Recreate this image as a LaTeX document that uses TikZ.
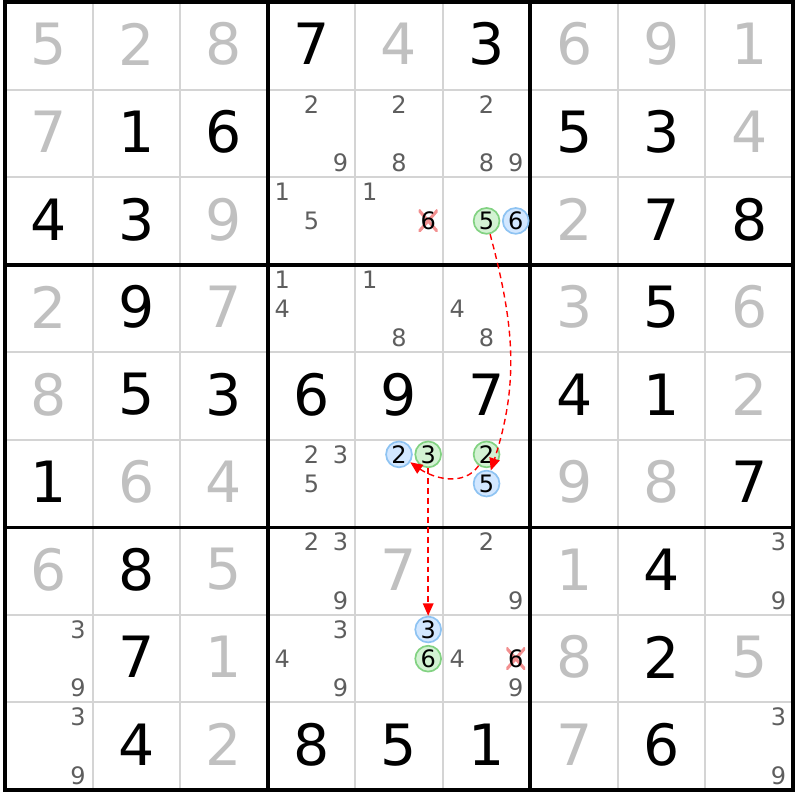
\documentclass[tikz,border=0pt]{standalone}
\usepackage{fontspec}
\setmainfont{DejaVu Sans}
\usetikzlibrary{arrows.meta}
\definecolor{gridgray}{HTML}{D4D4D4}
\definecolor{solvedgray}{HTML}{C0C0C0}
\definecolor{candgray}{HTML}{5E5E5E}
\definecolor{onblue}{HTML}{D2E7FF}
\definecolor{onblueline}{HTML}{8EC3F2}
\definecolor{offgreen}{HTML}{D3F2D3}
\definecolor{offgreenline}{HTML}{82D282}
\definecolor{crosspink}{HTML}{F29090}
\definecolor{linkred}{HTML}{FF0000}

\begin{document}
\begin{tikzpicture}[
  given/.style={font=\fontsize{18.5}{18.5}\selectfont, inner sep=0pt, yshift=0.5pt},
  solved/.style={given, text=solvedgray},
  cand/.style={font=\fontsize{7.8}{8}\selectfont, text=candgray, inner sep=0.6pt},
  candon/.style={cand, text=black, circle, draw=onblueline, fill=onblue,
    line width=0.55pt, minimum size=8.4pt, inner sep=0pt},
  candoff/.style={candon, draw=offgreenline, fill=offgreen},
  candx/.style={cand, text=black, path picture={
    \draw[crosspink, line width=1pt]
      (path picture bounding box.north west) -- (path picture bounding box.south east)
      (path picture bounding box.south west) -- (path picture bounding box.north east);}},
  link/.style={linkred, line width=0.45pt, dash pattern=on 1.9pt off 1.3pt,
    -{Triangle[length=1.4mm,width=1.2mm]}}]

\useasboundingbox (-0.057,-0.114) rectangle (9.057,9.023);

% grid
\foreach \i in {1,2,4,5,7,8}
  \draw[gridgray, line width=0.65pt] (\i,0) -- (\i,9) (0,\i) -- (9,\i);
\foreach \i in {3,6}
  \draw[black, line width=1.2pt] (\i,0) -- (\i,9) (0,\i) -- (9,\i);
\draw[black, line width=1.2pt] (0,0) rectangle (9,9);

% givens
\foreach \r/\c/\d in {1/4/7, 1/6/3, 2/2/1, 2/3/6, 2/7/5, 2/8/3,
    3/1/4, 3/2/3, 3/8/7, 3/9/8, 4/2/9, 4/8/5,
    5/2/5, 5/3/3, 5/4/6, 5/5/9, 5/6/7, 5/7/4, 5/8/1,
    6/1/1, 6/9/7, 7/2/8, 7/8/4, 8/2/7, 8/8/2,
    9/2/4, 9/4/8, 9/5/5, 9/6/1, 9/8/6}
  \node[given] (g\r\c) at (\c-0.5,9.5-\r) {\d};

% solved cells
\foreach \r/\c/\d in {1/1/5, 1/2/2, 1/3/8, 1/5/4, 1/7/6, 1/8/9, 1/9/1,
    2/1/7, 2/9/4, 3/3/9, 3/7/2, 4/1/2, 4/3/7, 4/7/3, 4/9/6,
    5/1/8, 5/9/2, 6/2/6, 6/3/4, 6/7/9, 6/8/8,
    7/1/6, 7/3/5, 7/5/7, 7/7/1, 8/3/1, 8/7/8, 8/9/5, 9/3/2, 9/7/7}
  \node[solved] (g\r\c) at (\c-0.5,9.5-\r) {\d};

% candidates
\foreach \r/\c/\k in {2/4/2, 2/4/9, 2/5/2, 2/5/8, 2/6/2, 2/6/8, 2/6/9,
    3/4/1, 3/4/5, 3/5/1, 4/4/1, 4/4/4, 4/5/1, 4/5/8, 4/6/4, 4/6/8,
    6/4/2, 6/4/3, 6/4/5, 7/4/2, 7/4/3, 7/4/9, 7/6/2, 7/6/9, 7/9/3, 7/9/9,
    8/1/3, 8/1/9, 8/4/3, 8/4/4, 8/4/9, 8/6/4, 8/6/9,
    9/1/3, 9/1/9, 9/9/3, 9/9/9}
  \node[cand] (n\r\c\k) at ({\c-0.5+(mod(\k-1,3)-1)/3},{9.5-\r-(int((\k-1)/3)-1)/3}) {\k};

% chain: on / off / removed
\foreach \r/\c/\k in {3/6/6, 6/5/2, 6/6/5, 8/5/3}
  \node[candon] (n\r\c\k) at ({\c-0.5+(mod(\k-1,3)-1)/3},{9.5-\r-(int((\k-1)/3)-1)/3}) {\k};
\foreach \r/\c/\k in {3/6/5, 6/5/3, 6/6/2, 8/5/6}
  \node[candoff] (n\r\c\k) at ({\c-0.5+(mod(\k-1,3)-1)/3},{9.5-\r-(int((\k-1)/3)-1)/3}) {\k};
\foreach \r/\c/\k in {3/5/6, 8/6/6}
  \node[candx] (n\r\c\k) at ({\c-0.5+(mod(\k-1,3)-1)/3},{9.5-\r-(int((\k-1)/3)-1)/3}) {\k};

\draw[link] (n365) to[out=-75,in=72] (n665);
\draw[link] (n662) to[out=-125,in=-35] (n652);
\draw[link] (n653) -- (n853);

\end{tikzpicture}
\end{document}
